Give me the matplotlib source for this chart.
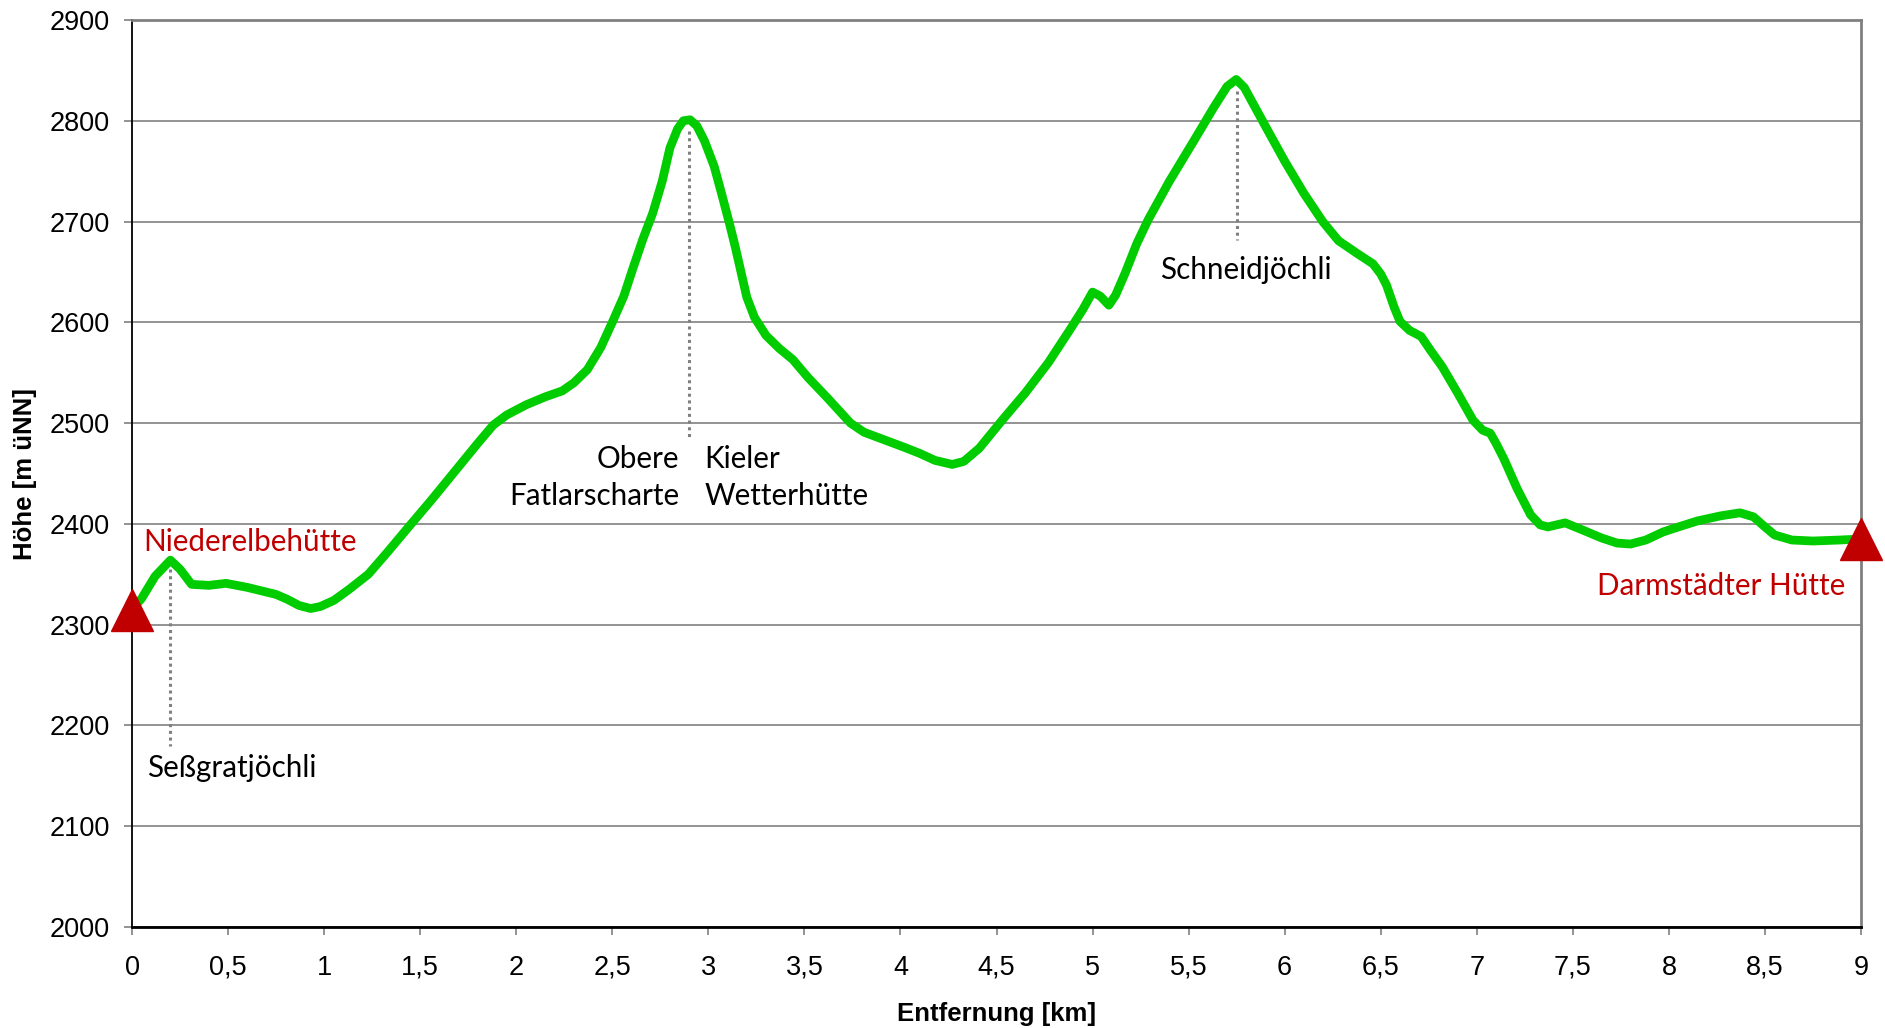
import matplotlib
matplotlib.use("Agg")
import matplotlib.pyplot as plt

# Hoehenprofil: Entfernung [km] / Hoehe [m uNN]
dist = [0.00, 0.05, 0.12, 0.20, 0.25, 0.31, 0.40, 0.49, 0.60, 0.75, 0.81, 0.87,
        0.93, 0.98, 1.05, 1.13, 1.23, 1.33, 1.44, 1.56, 1.68, 1.80, 1.88, 1.95,
        2.05, 2.15, 2.24, 2.30, 2.37, 2.44, 2.50, 2.56, 2.61, 2.66, 2.71, 2.76,
        2.80, 2.84, 2.87, 2.905, 2.94, 2.98, 3.03, 3.07, 3.11, 3.14, 3.17, 3.20,
        3.24, 3.30, 3.37, 3.44, 3.52, 3.62, 3.74, 3.81, 3.88, 4.02, 4.10, 4.18,
        4.27, 4.33, 4.41, 4.53, 4.65, 4.77, 4.88, 4.95, 5.00, 5.04, 5.085, 5.12,
        5.17, 5.23, 5.29, 5.40, 5.53, 5.63, 5.70, 5.748, 5.79, 5.89, 6.00, 6.10,
        6.198, 6.28, 6.38, 6.46, 6.50, 6.53, 6.57, 6.60, 6.65, 6.71, 6.76, 6.82,
        6.90, 6.98, 7.03, 7.07, 7.10, 7.14, 7.21, 7.28, 7.33, 7.37, 7.46, 7.55,
        7.65, 7.73, 7.80, 7.88, 7.97, 8.05, 8.15, 8.27, 8.37, 8.44, 8.50, 8.55,
        8.64, 8.75, 8.89, 9.00]
hoehe = [2315, 2326, 2348, 2364, 2355, 2340, 2339, 2341, 2337, 2330, 2325, 2319,
         2316, 2318, 2324, 2335, 2350, 2372, 2397, 2424, 2452, 2480, 2498, 2508,
         2518, 2526, 2532, 2540, 2553, 2575, 2600, 2626, 2655, 2683, 2708, 2740,
         2773, 2792, 2800, 2801, 2795, 2780, 2755, 2727, 2698, 2675, 2650, 2625,
         2605, 2587, 2574, 2563, 2545, 2525, 2500, 2491, 2486, 2476, 2470, 2463,
         2459, 2462, 2475, 2503, 2530, 2560, 2592, 2613, 2630, 2626, 2617, 2627,
         2649, 2678, 2702, 2740, 2781, 2813, 2834, 2841, 2833, 2798, 2760, 2728,
         2700, 2681, 2668, 2658, 2648, 2637, 2615, 2601, 2592, 2586, 2572, 2556,
         2530, 2503, 2493, 2490, 2480, 2465, 2435, 2409, 2399, 2397, 2401, 2394,
         2386, 2381, 2380, 2384, 2392, 2397, 2403, 2408, 2411, 2407, 2397, 2389,
         2384, 2383, 2384, 2385]

# Huetten (Start/Ziel)
huetten = ["Niederelbehütte", "Darmstädter Hütte"]
huetten_x = [0.0, 9.0]
huetten_y = [2315, 2385]

# Uebergaenge (Spitze der gepunkteten Linie, unteres Ende)
pass_x = [0.2, 2.9, 5.75]
pass_top = [2355, 2790, 2830]
pass_bottom = [2180, 2486, 2682]

xticks = [0, 0.5, 1, 1.5, 2, 2.5, 3, 3.5, 4, 4.5, 5, 5.5, 6, 6.5, 7, 7.5, 8, 8.5, 9]
xticklabels = ["0", "0,5", "1", "1,5", "2", "2,5", "3", "3,5", "4", "4,5", "5",
               "5,5", "6", "6,5", "7", "7,5", "8", "8,5", "9"]
yticks = [2000, 2100, 2200, 2300, 2400, 2500, 2600, 2700, 2800, 2900]

plt.rcParams['font.family'] = ['Liberation Sans', 'DejaVu Sans']

fig = plt.figure(figsize=(18.85, 10.28), dpi=100)
ax = fig.add_axes([132/1885, 1 - 927/1028, (1861 - 132)/1885, (927 - 20)/1028])

ax.set_xlim(0, 9)
ax.set_ylim(2000, 2900)
ax.set_xticks(xticks)
ax.set_xticklabels(xticklabels)
ax.set_yticks(yticks)
ax.tick_params(axis='both', labelsize=19.5, direction='out', length=6, width=1.2, color='#808080')
ax.tick_params(axis='y', pad=10)
ax.tick_params(axis='x', pad=14)

ax.grid(axis='y', color='#808080', linewidth=1.2)
ax.set_axisbelow(True)
for side in ['top', 'right']:
    ax.spines[side].set_color('#808080')
    ax.spines[side].set_linewidth(2)
ax.spines['left'].set_color('black')
ax.spines['left'].set_linewidth(1.3)
ax.spines['bottom'].set_color('black')
ax.spines['bottom'].set_linewidth(2)

# gepunktete Linien zu den Uebergaengen
for px, top, bot in zip(pass_x, pass_top, pass_bottom):
    ax.plot([px, px], [top, bot], color='#808080', linestyle=(0, (1, 1.2)), linewidth=2.2, zorder=2)

ax.plot(dist, hoehe, color='#00CC00', linewidth=6.3, solid_joinstyle='round',
        solid_capstyle='round', zorder=3)
ax.plot(huetten_x, huetten_y, linestyle='none', marker='^', markersize=30,
        color='#C00000', clip_on=False, zorder=4)

anno = ['Lato', 'DejaVu Sans']
fs = 21.3
ax.text(0.057, 2382, huetten[0], color='#C00000', fontsize=fs, family=anno, va='center', ha='left')
ax.text(8.92, 2338, huetten[1], color='#C00000', fontsize=fs, family=anno, va='center', ha='right')
ax.text(0.078, 2158, "Seßgratjöchli", fontsize=fs, family=anno, va='center', ha='left')
ax.text(2.85, 2446, "Obere\nFatlarscharte", fontsize=fs, family=anno, va='center', ha='right',
        multialignment='right', linespacing=1.4)
ax.text(2.98, 2446, "Kieler\nWetterhütte", fontsize=fs, family=anno, va='center', ha='left',
        linespacing=1.4)
ax.text(5.35, 2652, "Schneidjöchli", fontsize=fs, family=anno, va='center', ha='left')

ax.set_xlabel("Entfernung [km]", fontsize=18.5, fontweight='bold', labelpad=15)
ax.set_ylabel("Höhe [m üNN]", fontsize=18.5, fontweight='bold', labelpad=9)

fig.savefig("out.png", dpi=100)
